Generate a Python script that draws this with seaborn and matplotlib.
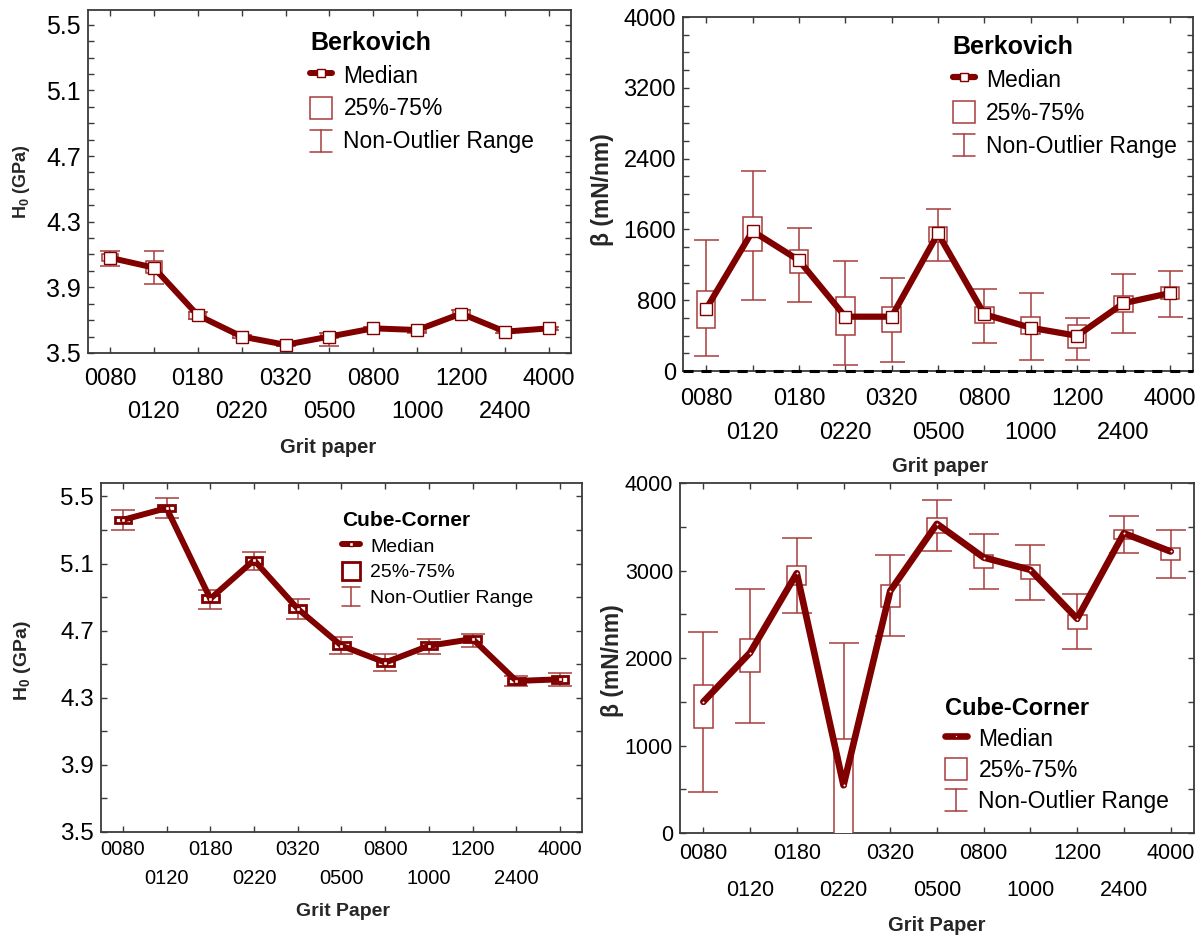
import numpy as np
import pandas as pd
import matplotlib
matplotlib.use("Agg")
import matplotlib.pyplot as plt
import seaborn as sns
from matplotlib.lines import Line2D
from matplotlib.patches import Patch
from matplotlib.legend_handler import HandlerBase

# --- data ---
grit = ['0080', '0120', '0180', '0220', '0320', '0500', '0800', '1000', '1200', '2400', '4000']

# Berkovich, H0 (GPa)
berk_h0_med = [4.08, 4.02, 3.73, 3.60, 3.55, 3.60, 3.65, 3.64, 3.74, 3.63, 3.65]
berk_h0_q1 = [4.06, 3.99, 3.71, 3.59, 3.54, 3.59, 3.64, 3.63, 3.73, 3.62, 3.64]
berk_h0_q3 = [4.10, 4.06, 3.75, 3.61, 3.56, 3.62, 3.66, 3.65, 3.76, 3.64, 3.66]
berk_h0_lo = [4.03, 3.92, 3.71, 3.59, 3.54, 3.54, 3.64, 3.62, 3.73, 3.62, 3.64]
berk_h0_hi = [4.12, 4.12, 3.75, 3.61, 3.56, 3.62, 3.66, 3.65, 3.76, 3.64, 3.66]

# Berkovich, beta (mN/nm)
berk_b_med = [701, 1581, 1251, 614, 614, 1554, 641, 489, 398, 766, 880]
berk_b_q1 = [489, 1361, 1107, 402, 440, 1463, 538, 413, 265, 667, 811]
berk_b_q3 = [906, 1740, 1365, 834, 728, 1626, 728, 614, 519, 849, 948]
berk_b_lo = [167, 804, 785, 72, 102, 1247, 322, 125, 125, 425, 607]
berk_b_hi = [1475, 2256, 1619, 1247, 1054, 1827, 929, 887, 595, 1100, 1130]

# Cube-Corner, H0 (GPa)
cube_h0_med = [5.36, 5.43, 4.89, 5.12, 4.83, 4.61, 4.51, 4.61, 4.65, 4.40, 4.41]
cube_h0_q1 = [5.34, 5.41, 4.87, 5.10, 4.81, 4.59, 4.49, 4.59, 4.63, 4.38, 4.39]
cube_h0_q3 = [5.38, 5.45, 4.91, 5.14, 4.85, 4.63, 4.53, 4.63, 4.67, 4.42, 4.43]
cube_h0_lo = [5.30, 5.37, 4.83, 5.06, 4.77, 4.56, 4.46, 4.56, 4.60, 4.37, 4.37]
cube_h0_hi = [5.42, 5.49, 4.94, 5.17, 4.89, 4.66, 4.56, 4.65, 4.68, 4.43, 4.45]

# Cube-Corner, beta (mN/nm)
cube_b_med = [1500, 2061, 2969, 546, 2767, 3534, 3149, 3008, 2450, 3427, 3218]
cube_b_q1 = [1195, 1836, 2836, -150, 2588, 3427, 3031, 2905, 2332, 3359, 3122]
cube_b_q3 = [1695, 2221, 3050, 1080, 2832, 3595, 3183, 3061, 2492, 3466, 3263]
cube_b_lo = [469, 1263, 2511, -450, 2252, 3229, 2794, 2664, 2103, 3198, 2912]
cube_b_hi = [2298, 2794, 3370, 2172, 3176, 3802, 3416, 3294, 2733, 3626, 3466]

h0_ticks = [3.5, 3.9, 4.3, 4.7, 5.1, 5.5]
beta_ticks_top = [0, 800, 1600, 2400, 3200, 4000]
beta_ticks_bot = [0, 1000, 2000, 3000, 4000]

DARK = '#800000'
LIGHT = '#a83c3c'
SPINE = '#3a3a3a'

sns.set_theme(style='ticks')
plt.rcParams['font.family'] = ['Liberation Sans', 'DejaVu Sans']
plt.rcParams['mathtext.fontset'] = 'custom'
plt.rcParams['mathtext.rm'] = 'Liberation Sans'
plt.rcParams['mathtext.bf'] = 'Liberation Sans:bold'
plt.rcParams['mathtext.it'] = 'Liberation Sans:italic'
plt.rcParams['text.color'] = 'black'
plt.rcParams['xtick.color'] = SPINE
plt.rcParams['ytick.color'] = SPINE
plt.rcParams['xtick.labelcolor'] = 'black'
plt.rcParams['ytick.labelcolor'] = 'black'


class HandlerWhisker(HandlerBase):
    # draws an I-beam for the "Non-Outlier Range" entry
    def create_artists(self, legend, orig_handle, xdescent, ydescent,
                       width, height, fontsize, trans):
        cx = width / 2 - xdescent
        y0, y1 = -ydescent, height - ydescent
        cw = width * 0.5
        segs = [([cx, cx], [y0, y1]), ([cx - cw, cx + cw], [y0, y0]), ([cx - cw, cx + cw], [y1, y1])]
        out = []
        for xs, ys in segs:
            ln = Line2D(xs, ys, color=orig_handle.get_color(), lw=orig_handle.get_linewidth())
            ln.set_transform(trans)
            out.append(ln)
        return out


def draw_panel(ax, med, q1, q3, lo, hi, st):
    df = pd.DataFrame({'pos': np.arange(len(grit)), 'med': med, 'q1': q1, 'q3': q3,
                       'lo': lo, 'hi': hi})
    df['iqr'] = df['q3'] - df['q1']
    ax.errorbar(df['pos'], df['med'], yerr=[df['med'] - df['lo'], df['hi'] - df['med']],
                fmt='none', ecolor=LIGHT, elinewidth=1.1, capsize=st['capsize'],
                capthick=1.1, zorder=2)
    ax.bar(df['pos'], df['iqr'], bottom=df['q1'], width=st['boxw'], facecolor='white',
           edgecolor=st['boxc'], linewidth=st['boxlw'], zorder=3)
    sns.lineplot(data=df, x='pos', y='med', ax=ax, color=DARK, lw=st['lw'],
                 marker=st['marker'], markersize=st['ms'], markerfacecolor='white',
                 markeredgecolor=DARK, markeredgewidth=1.0, zorder=4, legend=False)

    ax.set_xlim(-0.5, len(grit) - 0.5)
    ax.set_ylim(*st['ylim'])
    ax.set_yticks(st['yticks'])
    ax.set_yticklabels(st['yticklabels'])
    ax.set_yticks(st['yminor'], minor=True)
    ax.set_xticks(df['pos'])
    ax.set_xticklabels(grit)
    ax.tick_params(axis='both', which='both', direction='in', top=True, right=True,
                   length=4, width=1.0, color=SPINE)
    ax.tick_params(axis='x', labelsize=st['tickfs'])
    ax.tick_params(axis='y', labelsize=st['ytickfs'], pad=st['ypad'])
    for s in ax.spines.values():
        s.set_color(SPINE)
        s.set_linewidth(1.3)

    ax.set_xlabel(st['xlabel'], fontsize=st['xlabfs'], fontweight='bold', va='center')
    ax.set_ylabel(st['ylabel'], fontsize=st['ylabfs'], fontweight='bold', va='center')
    ax.xaxis.set_label_coords(*st['xlabpos'])
    ax.yaxis.set_label_coords(*st['ylabpos'])

    # staggered category labels: two rows
    for i, t in enumerate(ax.xaxis.get_major_ticks()):
        t.set_pad(st['pad2'] if i % 2 else st['pad1'])

    h_med = Line2D([], [], color=DARK, lw=st['lw'], marker=st['marker'],
                   markersize=st['ms'] * 0.8, markerfacecolor='white', markeredgecolor=DARK)
    h_box = Patch(facecolor='white', edgecolor=st['boxc'], linewidth=st['boxlw'])
    h_wh = Line2D([], [], color=LIGHT, lw=1.1)
    leg = ax.legend([h_med, h_box, h_wh], ['Median', '25%-75%', 'Non-Outlier Range'],
                    title=st['title'], loc='upper left', bbox_to_anchor=st['legpos'],
                    frameon=False, borderpad=0, borderaxespad=0, fontsize=st['legfs'],
                    title_fontproperties={'weight': 'bold', 'size': st['titlefs']},
                    alignment='left', handlelength=0.95, handleheight=1.1,
                    handletextpad=0.5, labelspacing=st['legsp'],
                    handler_map={h_wh: HandlerWhisker()})
    leg.set_zorder(6)
    return ax


fig = plt.figure(figsize=(12.02, 9.40), dpi=100)

ax_tl = fig.add_axes([0.0732, 0.6245, 0.4018, 0.3649])
draw_panel(ax_tl, berk_h0_med, berk_h0_q1, berk_h0_q3, berk_h0_lo, berk_h0_hi, dict(
    ylim=(3.5, 5.59), yticks=h0_ticks, yticklabels=[f'{v:.1f}' for v in h0_ticks],
    yminor=np.arange(3.5, 5.55, 0.1), tickfs=17, ytickfs=18, ypad=5,
    xlabfs=14.5, ylabfs=13,
    xlabel='Grit paper', ylabel=r'H$_\mathbf{0}$ (GPa)',
    xlabpos=(0.497, -0.277), ylabpos=(-0.137, 0.5), pad1=11, pad2=34.5,
    capsize=7, boxw=0.38, boxc=LIGHT, boxlw=1.1, lw=4.3, marker='s', ms=8,
    title='Berkovich', legpos=(0.46, 0.94), legfs=16.5, titlefs=18, legsp=0.4))

ax_tr = fig.add_axes([0.5682, 0.6053, 0.4243, 0.3766])
draw_panel(ax_tr, berk_b_med, berk_b_q1, berk_b_q3, berk_b_lo, berk_b_hi, dict(
    ylim=(0, 4000), yticks=beta_ticks_top, yticklabels=[str(v) for v in beta_ticks_top],
    yminor=np.arange(0, 4001, 200), tickfs=17, ytickfs=17, ypad=5,
    xlabfs=14.5, ylabfs=16.5,
    xlabel='Grit paper', ylabel='β (mN/nm)',
    xlabpos=(0.504, -0.271), ylabpos=(-0.158, 0.511), pad1=12, pad2=36.5,
    capsize=9, boxw=0.4, boxc=LIGHT, boxlw=1.1, lw=4.5, marker='s', ms=8,
    title='Berkovich', legpos=(0.529, 0.95), legfs=16.5, titlefs=18, legsp=0.4))
ax_tr.axhline(0, color='black', lw=2.2, dashes=(3.3, 2.6), zorder=7, clip_on=False)

ax_bl = fig.add_axes([0.084, 0.1149, 0.4002, 0.3713])
draw_panel(ax_bl, cube_h0_med, cube_h0_q1, cube_h0_q3, cube_h0_lo, cube_h0_hi, dict(
    ylim=(3.5, 5.58), yticks=h0_ticks, yticklabels=[f'{v:.1f}' for v in h0_ticks],
    yminor=np.arange(3.5, 5.55, 0.2), tickfs=14.5, ytickfs=17.5, ypad=5,
    xlabfs=14, ylabfs=14,
    xlabel='Grit Paper', ylabel=r'H$_\mathbf{0}$ (GPa)',
    xlabpos=(0.503, -0.229), ylabpos=(-0.164, 0.49), pad1=5.5, pad2=27,
    capsize=8.5, boxw=0.38, boxc=DARK, boxlw=2.0, lw=4.3, marker='s', ms=3.5,
    title='Cube-Corner', legpos=(0.501, 0.92), legfs=14, titlefs=15, legsp=0.3))

ax_br = fig.add_axes([0.5657, 0.1138, 0.4276, 0.3723])
draw_panel(ax_br, cube_b_med, cube_b_q1, cube_b_q3, cube_b_lo, cube_b_hi, dict(
    ylim=(0, 4000), yticks=beta_ticks_bot, yticklabels=[str(v) for v in beta_ticks_bot],
    yminor=np.arange(0, 4001, 500), tickfs=15.5, ytickfs=15.5, ypad=5,
    xlabfs=14.5, ylabfs=16.5,
    xlabel='Grit Paper', ylabel='β (mN/nm)',
    xlabpos=(0.5, -0.263), ylabpos=(-0.132, 0.494), pad1=7, pad2=33.5,
    capsize=11, boxw=0.41, boxc=LIGHT, boxlw=1.1, lw=4.8, marker='o', ms=2.5,
    title='Cube-Corner', legpos=(0.516, 0.39), legfs=16.5, titlefs=17, legsp=0.32))

fig.savefig('out.png', dpi=100)
